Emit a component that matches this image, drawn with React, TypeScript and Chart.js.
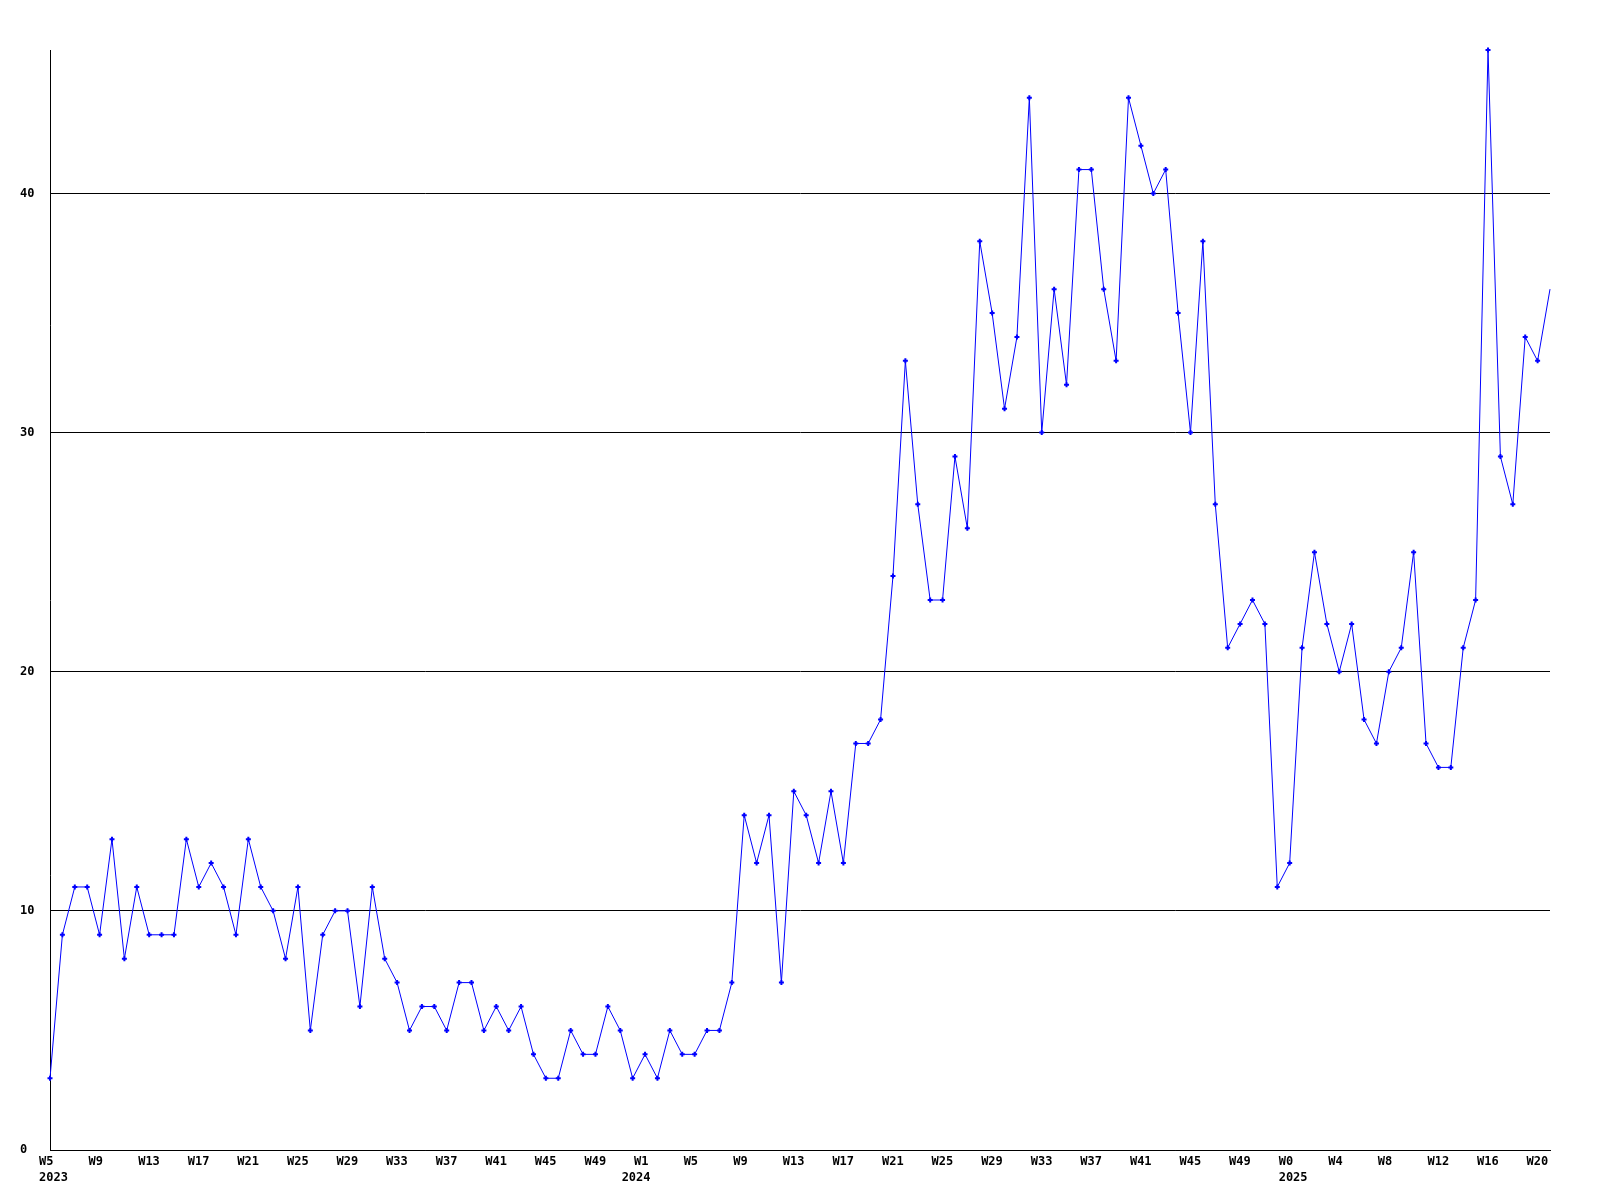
import { useEffect, useRef } from 'react';
import { Chart, registerables } from 'chart.js';

Chart.register(...registerables);

// ISO-like week numbers per year, as printed on the axis
const weeks2023 = [5, 6, 7, 8, 9, 10, 11, 12, 13, 14, 15, 16, 17, 18, 19, 20, 21, 22, 23, 24, 25, 26, 27, 28, 29, 30, 31, 32, 33, 34, 35, 36, 37, 38, 39, 40, 41, 42, 43, 44, 45, 46, 47, 48, 49, 50, 51, 52];
const weeks2024 = [1, 2, 3, 4, 5, 6, 7, 8, 9, 10, 11, 12, 13, 14, 15, 16, 17, 18, 19, 20, 21, 22, 23, 24, 25, 26, 27, 28, 29, 30, 31, 32, 33, 34, 35, 36, 37, 38, 39, 40, 41, 42, 43, 44, 45, 46, 47, 48, 49, 50, 51, 52];
const weeks2025 = [0, 1, 2, 3, 4, 5, 6, 7, 8, 9, 10, 11, 12, 13, 14, 15, 16, 17, 18, 19, 20, 21];

// weekly counts
const values2023 = [3, 9, 11, 11, 9, 13, 8, 11, 9, 9, 9, 13, 11, 12, 11, 9, 13, 11, 10, 8, 11, 5, 9, 10, 10, 6, 11, 8, 7, 5, 6, 6, 5, 7, 7, 5, 6, 5, 6, 4, 3, 3, 5, 4, 4, 6, 5, 3];
const values2024 = [4, 3, 5, 4, 4, 5, 5, 7, 14, 12, 14, 7, 15, 14, 12, 15, 12, 17, 17, 18, 24, 33, 27, 23, 23, 29, 26, 38, 35, 31, 34, 44, 30, 36, 32, 41, 41, 36, 33, 44, 42, 40, 41, 35, 30, 38, 27, 21, 22, 23, 22, 11];
const values2025 = [12, 21, 25, 22, 20, 22, 18, 17, 20, 21, 25, 17, 16, 16, 21, 23, 46, 29, 27, 34, 33, 36];

// year captions and the category under which each one is printed
const yearLabels = ['2023', '2024', '2025'];
const yearLabelAt = ['2023-W5', '2023-W52', '2025-W0'];

// y axis
const yMin = 0;
const yMax = 46;
const yStep = 10;

const categories = [
  ...weeks2023.map((w) => `2023-W${w}`),
  ...weeks2024.map((w) => `2024-W${w}`),
  ...weeks2025.map((w) => `2025-W${w}`),
];
const weekNumbers = [...weeks2023, ...weeks2024, ...weeks2025];
const values = [...values2023, ...values2024, ...values2025];

const tickFont = { family: "'DejaVu Sans Mono', monospace", size: 12, weight: 'bold' as const };

export default function App() {
  const canvasRef = useRef<HTMLCanvasElement | null>(null);

  useEffect(() => {
    document.body.style.margin = '0';
    document.body.style.background = '#ffffff';
    const canvas = canvasRef.current;
    if (!canvas) return;

    const chart = new Chart(canvas, {
      type: 'line',
      data: {
        labels: categories,
        datasets: [
          {
            data: values,
            xAxisID: 'x',
            yAxisID: 'y',
            borderColor: '#0000ff',
            borderWidth: 1,
            tension: 0,
            fill: false,
            pointStyle: 'cross',
            pointRadius: (ctx: any) => (ctx.dataIndex === values.length - 1 ? 0 : 2.5),
            pointBorderWidth: 2,
            pointBorderColor: '#0000ff',
            pointBackgroundColor: '#0000ff',
            clip: false as any,
          },
        ],
      },
      options: {
        animation: false,
        responsive: false,
        devicePixelRatio: 1,
        layout: { padding: { top: 50, right: 50, left: 20, bottom: 0 } },
        plugins: {
          legend: { display: false },
          tooltip: { enabled: false },
        },
        scales: {
          x: {
            type: 'category',
            position: 'bottom',
            weight: 0,
            offset: false,
            grid: { display: false, drawTicks: false },
            border: { display: true, color: '#000000', width: 1 },
            ticks: {
              autoSkip: false,
              maxRotation: 0,
              minRotation: 0,
              align: 'start',
              labelOffset: -11,
              padding: 5,
              color: '#000000',
              font: tickFont,
              callback: (value: any) => {
                const i = Number(value);
                return i % 4 === 0 ? 'W' + weekNumbers[i] : '';
              },
            },
            afterFit: (s: any) => {
              s.height = 16;
            },
          },
          x2: {
            type: 'category',
            position: 'bottom',
            weight: 1,
            offset: false,
            grid: { display: false, drawTicks: false },
            border: { display: false },
            ticks: {
              autoSkip: false,
              maxRotation: 0,
              minRotation: 0,
              align: 'start',
              labelOffset: -11,
              padding: 5,
              color: '#000000',
              font: tickFont,
              callback: (value: any) => {
                const k = yearLabelAt.indexOf(categories[Number(value)]);
                return k >= 0 ? yearLabels[k] : '';
              },
            },
            afterFit: (s: any) => {
              s.height = 34;
            },
          },
          y: {
            type: 'linear',
            position: 'left',
            min: yMin,
            max: yMax,
            grid: { color: '#000000', lineWidth: 1, drawTicks: false },
            border: { display: true, color: '#000000', width: 1 },
            ticks: {
              stepSize: yStep,
              includeBounds: false,
              crossAlign: 'far',
              padding: 0,
              color: '#000000',
              font: tickFont,
            },
            afterFit: (s: any) => {
              s.width = 30;
            },
          },
        },
      } as any,
    });

    return () => {
      chart.destroy();
    };
  }, []);

  return <canvas ref={canvasRef} width={1600} height={1200} style={{ display: 'block' }} />;
}
